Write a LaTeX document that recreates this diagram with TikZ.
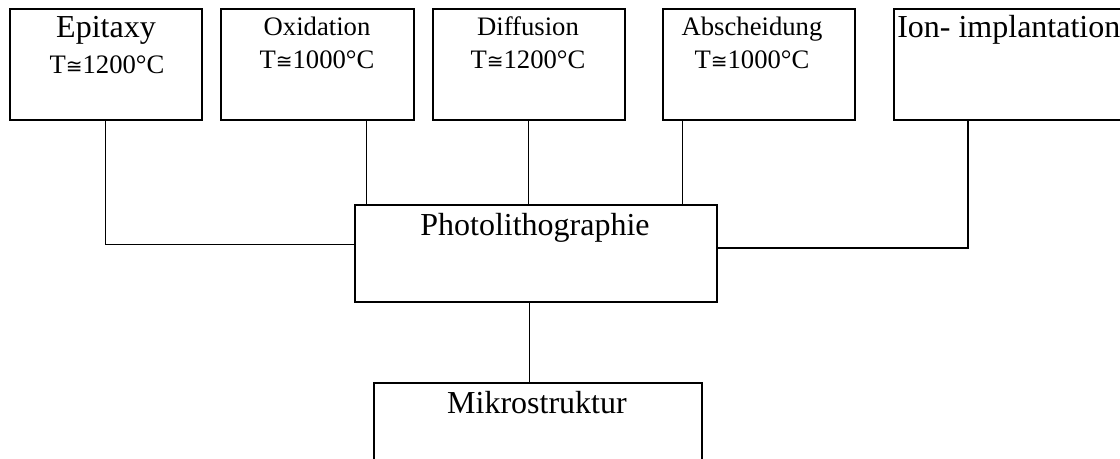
\documentclass[tikz,border=0pt]{standalone}
\usepackage{fontspec}
\setmainfont{Liberation Serif}
\newfontfamily\symfont{DejaVu Sans}
\newcommand{\approxeq}{{\symfont\fontsize{15}{18}\selectfont ≅}}
\usetikzlibrary{positioning}

\begin{document}
\begin{tikzpicture}[x=0.75pt, y=-0.75pt,
    box/.style={draw, line width=1.3pt, anchor=north west, inner sep=0pt,
        minimum width=144pt, minimum height=83.25pt},
    link/.style={line width=0.9pt},
    big/.style={font=\fontsize{24}{28}\selectfont, inner sep=0pt, anchor=base},
    small/.style={font=\fontsize{20}{24}\selectfont, inner sep=0pt, anchor=base}]
    \useasboundingbox (0,0) rectangle (1120,458);
    \clip (0,0) rectangle (1120,458);

    % Process boxes
    \node[box] (epi) at (9,8) {};
    \node[box, minimum width=144.75pt] (oxi) at (220,8) {};
    \node[box] (diff) at (432,8) {};
    \node[box] (absch) at (662,8) {};
    \node[box, minimum width=180pt] (ion) at (893,8) {};
    \node[box, minimum width=271.5pt, minimum height=72.75pt] (photo) at (354,204) {};
    \node[box, minimum width=246pt, minimum height=75pt] (mikro) at (373,382) {};

    % Labels
    \node[big] (epi-name) at (106,37) {Epitaxy};
    \node[small] (epi-temp) at (107,73) {T\approxeq1200°C};
    \node[small] (oxi-name) at (317,35) {Oxidation};
    \node[small] (oxi-temp) at (317,68) {T\approxeq1000°C};
    \node[small] (diff-name) at (528,35) {Diffusion};
    \node[small] (diff-temp) at (528,68) {T\approxeq1200°C};
    \node[small] (absch-name) at (752,35) {Abscheidung};
    \node[small] (absch-temp) at (752,68) {T\approxeq1000°C};
    \node[big, anchor=base west] (ion-name) at (897,37) {Ion- implantation};
    \node[big] (photo-name) at (535,235) {Photolithographie};
    \node[big] (mikro-name) at (537,413) {Mikrostruktur};

    % Feeds into photolithography
    \draw[link] (epi.south) |- ([yshift=6.4pt]photo.west);
    \draw[link] ([xshift=37pt]oxi.south) -- ([xshift=37pt]oxi.south |- photo.north);
    \draw[link] (diff.south) -- (diff.south |- photo.north);
    \draw[link] ([xshift=-57pt]absch.south) -- ([xshift=-57pt]absch.south |- photo.north);
    \draw[link] ([xshift=56.25pt]ion.south west) |- ([yshift=4.1pt]photo.east);
    \draw[link] ([xshift=-5pt]photo.south) -- ([xshift=-5pt]photo.south |- mikro.north);
\end{tikzpicture}
\end{document}
